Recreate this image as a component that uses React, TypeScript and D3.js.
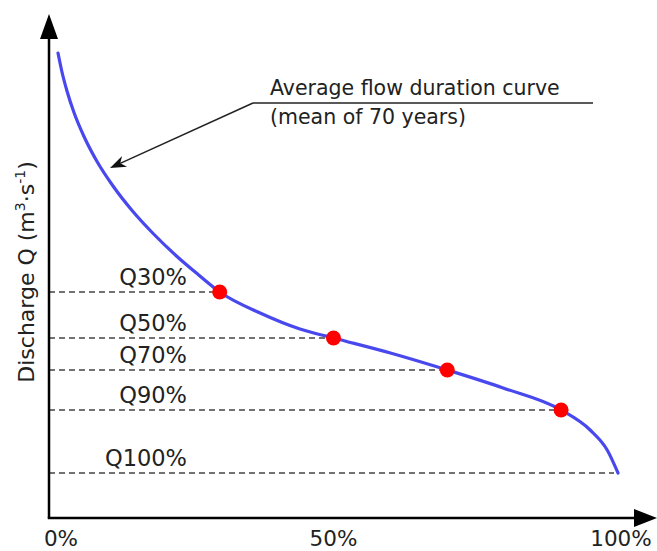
import React from 'react'
import * as d3 from 'd3'

// flow duration curve (percent of time exceeded, discharge in arbitrary units)
const curvePercent = [1.58, 2.28, 3.16, 4.39, 6.15, 8.44, 11.25, 14.6, 18.3, 22.3, 26.2, 30, 37.1, 44.1, 50, 60, 70, 79.8, 90, 95.1, 98.1, 100]
const curveDischarge = [93, 89.2, 85.4, 81.1, 76.3, 71.3, 66.4, 61.5, 56.9, 52.5, 48.7, 45.2, 41, 37.8, 36, 33, 29.6, 26, 21.6, 17.6, 13.6, 9]

// marked quantiles
const quantileLabels = ['Q30%', 'Q50%', 'Q70%', 'Q90%', 'Q100%']
const quantilePercent = [30, 50, 70, 90, 100]
const quantileDischarge = [45.2, 36, 29.6, 21.6, 9]

const tickValues = [0, 50, 100]
const tickLabels = ['0%', '50%', '100%']

const width = 657
const height = 551
const font = 'DejaVu Sans, Verdana, sans-serif'

const x = d3.scaleLinear().domain([0, 100]).range([49, 618])
const y = d3.scaleLinear().domain([0, 100]).range([518, 18])

const curve = d3.line<number>()
  .x(i => x(curvePercent[i]))
  .y(i => y(curveDischarge[i]))
  .curve(d3.curveMonotoneX)

export default function App() {
  const x0 = x(0)
  const y0 = y(0)
  const pts = curvePercent.map((_, i) => i)

  // annotation arrow: from end of underline down to the curve
  const arrowTip = [110, 168]
  const arrowFrom = [253, 103]
  const ang = Math.atan2(arrowTip[1] - arrowFrom[1], arrowTip[0] - arrowFrom[0])
  const hl = 16, hw = 6
  const bx = arrowTip[0] - hl * Math.cos(ang), by = arrowTip[1] - hl * Math.sin(ang)
  const notch = [arrowTip[0] - hl * 0.7 * Math.cos(ang), arrowTip[1] - hl * 0.7 * Math.sin(ang)]
  const head = [
    arrowTip,
    [bx + hw * Math.sin(ang), by - hw * Math.cos(ang)],
    notch,
    [bx - hw * Math.sin(ang), by + hw * Math.cos(ang)]
  ]

  // tick label nudges (the 0% label sits a bit right of the corner)
  const tickShift = [12, 0, 3]

  return (
    <svg width={width} height={height} style={{ position: 'absolute', left: 0, top: 0 }}>
      <rect width={width} height={height} fill='#fff' />

      {/* dashed guides */}
      {quantilePercent.map((p, i) => (
        <line key={'d' + i} x1={x0} x2={x(p) - (p === 100 ? 4 : 0)} y1={y(quantileDischarge[i])} y2={y(quantileDischarge[i])}
          stroke='#444' strokeWidth={1.4} strokeDasharray='6,4' />
      ))}
      {quantileLabels.map((t, i) => (
        <text key={'q' + i} x={187} y={y(quantileDischarge[i]) - 7} textAnchor='end'
          fontFamily={font} fontSize={22.5} fill='#222'>{t}</text>
      ))}

      {/* curve */}
      <path d={curve(pts) || ''} fill='none' stroke='#4848ee' strokeWidth={3.2} strokeLinecap='round' />
      {quantilePercent.slice(0, 4).map((p, i) => (
        <circle key={'c' + i} cx={x(p)} cy={y(quantileDischarge[i])} r={7.5} fill='#ff0000' />
      ))}

      {/* axes */}
      <line x1={x0} y1={y0} x2={x0} y2={36} stroke='#000' strokeWidth={2.5} />
      <path d={`M${x0},14 L${x0 + 9},39 L${x0 - 9},39 Z`} fill='#000' />
      <line x1={x0 - 1.25} y1={y0} x2={638} y2={y0} stroke='#000' strokeWidth={2.5} />
      <path d={`M657,${y0} L634,${y0 - 9} L634,${y0 + 9} Z`} fill='#000' />

      {tickValues.map((v, i) => (
        <text key={'t' + i} x={x(v) + tickShift[i]} y={546} textAnchor='middle'
          fontFamily={font} fontSize={21.5} fill='#222'>{tickLabels[i]}</text>
      ))}

      {/* y label */}
      <text transform='translate(34,272) rotate(-90)' textAnchor='middle' fontFamily={font} fontSize={22} fill='#222'>
        Discharge Q (m<tspan dy={-9} fontSize={14}>3</tspan><tspan dy={9}>·s</tspan><tspan dy={-9} fontSize={14}>-1</tspan><tspan dy={9}>)</tspan>
      </text>

      {/* annotation */}
      <text x={270} y={95} fontFamily={font} fontSize={20.5} fill='#222'>Average flow duration curve</text>
      <text x={270} y={124} fontFamily={font} fontSize={20.5} fill='#222'>(mean of 70 years)</text>
      <line x1={253} y1={103} x2={593} y2={103} stroke='#222' strokeWidth={1.5} />
      <line x1={arrowFrom[0]} y1={arrowFrom[1]} x2={notch[0]} y2={notch[1]} stroke='#222' strokeWidth={1.5} />
      <path d={'M' + head.map(p => p.join(',')).join('L') + 'Z'} fill='#111' />
    </svg>
  )
}
